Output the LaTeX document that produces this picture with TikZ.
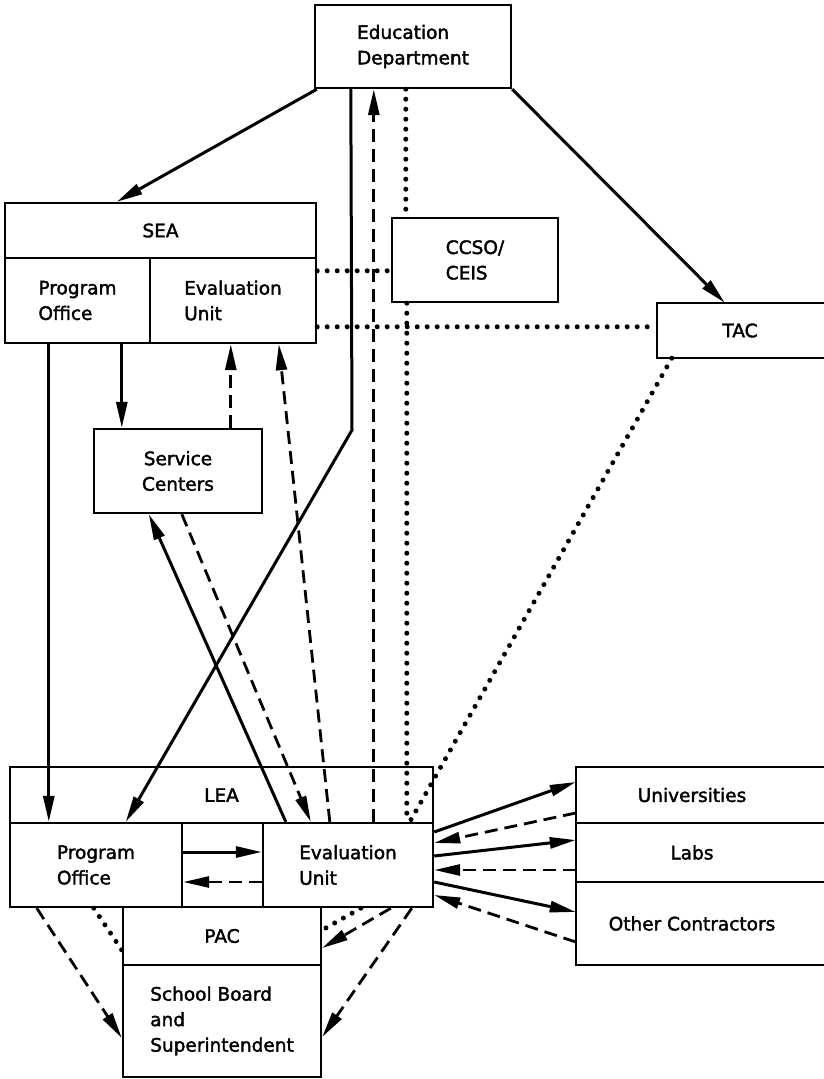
\documentclass[tikz,border=0pt]{standalone}
\usepackage{fontspec}
\setmainfont{DejaVu Sans}[FakeBold=2]
\usetikzlibrary{arrows.meta}
\begin{document}
\begin{tikzpicture}[x=1pt,y=-1pt,
  font=\fontsize{18.5}{25.5}\selectfont,
  box/.style={draw,line width=2.4pt,rectangle,inner sep=0pt,align=left},
  openbox/.style={rectangle,inner sep=0pt,align=center},
  solidln/.style={line width=3pt},
  dashln/.style={line width=2.8pt,dash pattern=on 13pt off 7pt},
  dotln/.style={line width=5pt,dash pattern=on 0pt off 10pt,line cap=round},
  tip/.style={-{Triangle[length=26pt,width=11pt]}}
]
\useasboundingbox (0,0) rectangle (824,1079);

% boxes
\node[box,minimum width=196pt,minimum height=83pt] (edu) at (413,46.5) {Education\\Department};
\node[box,minimum width=311pt,minimum height=55pt,align=center] (sea) at (160.5,230.5) {SEA};
\node[box,minimum width=145pt,minimum height=85pt] (seapo) at (77.5,300.5) {Program\\Office};
\node[box,minimum width=166pt,minimum height=85pt] (seaeu) at (233,300.5) {Evaluation\\Unit};
\node[box,minimum width=166pt,minimum height=84pt] (ccso) at (475,260) {CCSO/\\CEIS};
\node[openbox,minimum width=166pt,minimum height=55pt] (tac) at (740,330.5) {TAC};
\node[box,minimum width=168pt,minimum height=84pt,align=center] (sc) at (178,471) {Service\\Centers};
\node[box,minimum width=423pt,minimum height=56pt,align=center] (lea) at (221.5,795) {LEA};
\node[box,minimum width=172pt,minimum height=84pt] (leapo) at (96,865) {Program\\Office};
\node[box,minimum width=81pt,minimum height=84pt] (leamid) at (222.5,865) {};
\node[box,minimum width=170pt,minimum height=84pt] (leaeu) at (348,865) {Evaluation\\Unit};
\node[box,minimum width=198pt,minimum height=58pt,align=center] (pac) at (222,936) {PAC};
\node[box,minimum width=198pt,minimum height=112pt] (sb) at (222,1021) {School Board\\and\\Superintendent};
\node[openbox,minimum width=232pt,minimum height=56pt] (univ) at (692,795) {Universities};
\node[openbox,minimum width=232pt,minimum height=59pt] (labs) at (692,852.5) {Labs};
\node[openbox,minimum width=232pt,minimum height=83pt] (other) at (692,923.5) {Other Contractors};

% open-ended boxes on the right edge
\draw[line width=2.4pt] ([xshift=80]tac.north east) -- (tac.north west) -- (tac.south west) -- ([xshift=80]tac.south east);
\draw[line width=2.4pt] ([xshift=80]univ.north east) -- (univ.north west) -- (other.south west) -- ([xshift=80]other.south east);
\draw[line width=2.4pt] (labs.north west) -- ([xshift=80]labs.north east);
\draw[line width=2.4pt] (labs.south west) -- ([xshift=80]labs.south east);

\coordinate (bend) at (352,430);

% solid arrows
\draw[solidln,tip] ([xshift=3]edu.south west) -- ([xshift=113]sea.north west);
\draw[solidln,tip] (edu.south east) -- ([xshift=68]tac.north west);
\draw[solidln,tip] ([xshift=37]edu.south west) -- (bend) -- ([xshift=117]leapo.north west);
\draw[solidln,tip] ([xshift=45]seapo.south west) -- ([xshift=40]leapo.north west);
\draw[solidln,tip] ([xshift=118]seapo.south west) -- ([xshift=29]sc.north west);
\draw[solidln,tip] ([xshift=24]leaeu.north west) -- ([xshift=56]sc.south west);
\draw[solidln,tip] ([yshift=13]leapo.east) -- ([yshift=13]leaeu.west);

% dashed arrows
\draw[dashln,tip] ([xshift=112]leaeu.north west) -- ([xshift=60]edu.south west);
\draw[dashln,tip] ([xshift=138]sc.north west) -- ([xshift=82]seaeu.south west);
\draw[dashln,tip] ([xshift=68]leaeu.north west) -- ([xshift=130]seaeu.south west);
\draw[dashln,tip] ([xshift=89]sc.south west) -- ([xshift=49]leaeu.north west);
\draw[dashln,tip] ([yshift=-17]leaeu.west) -- ([yshift=-17]leapo.east);
\draw[dashln,tip] ([xshift=28]leapo.south west) -- ([yshift=-17]sb.west);
\draw[dashln,tip] ([xshift=129]leaeu.south west) -- ([yshift=-12]pac.east);
\draw[dashln,tip] ([xshift=150]leaeu.south west) -- ([yshift=-16]sb.east);

% dotted links
\draw[dotln] ([xshift=92]edu.south west) -- ([xshift=15]ccso.north west);
\draw[dotln] ([xshift=16]ccso.south west) -- ([xshift=145]leaeu.north west);
\draw[dotln] ([xshift=15]tac.south west) -- ([xshift=148]leaeu.north west);
\coordinate (d1) at ([yshift=-14]seaeu.north east);
\coordinate (d2) at ([yshift=-70]seaeu.north east);
\draw[dotln] (d1) -- (d1 -| ccso.west);
\draw[dotln] (d2) -- (d2 -| tac.west);
\draw[dotln] ([xshift=85]leapo.south west) -- ([yshift=-14]pac.west);
\draw[dotln] ([xshift=99]leaeu.south west) -- ([yshift=6]pac.east);

% contractors
\draw[solidln,tip] ([yshift=33]leaeu.east) -- ([yshift=13]univ.west);
\draw[dashln,tip] ([yshift=-18]univ.west) -- ([yshift=22]leaeu.east);
\draw[solidln,tip] ([yshift=9]leaeu.east) -- ([yshift=12.5]labs.west);
\draw[dashln,tip] ([yshift=-17.5]labs.west) -- ([yshift=-5]leaeu.east);
\draw[solidln,tip] ([yshift=-17]leaeu.east) -- ([yshift=11.5]other.west);
\draw[dashln,tip] ([yshift=-18.5]other.west) -- ([yshift=-30]leaeu.east);
\end{tikzpicture}
\end{document}
